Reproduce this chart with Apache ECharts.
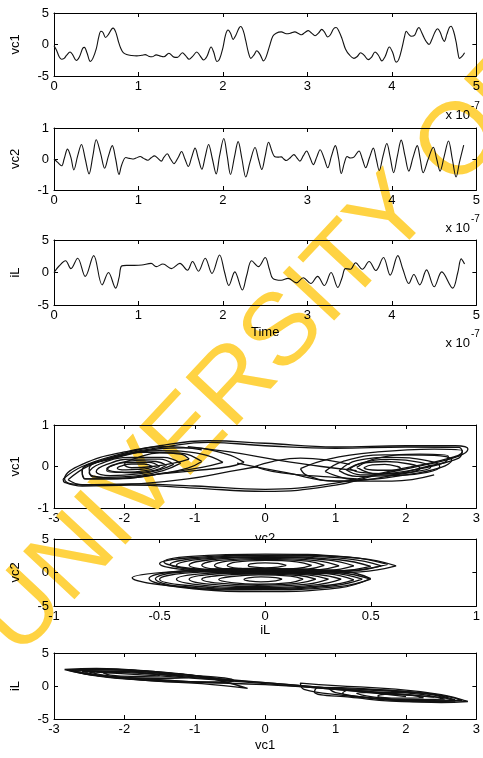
<!DOCTYPE html>
<html>
<head>
<meta charset="utf-8">
<script src="https://cdn.jsdelivr.net/npm/echarts@6/dist/echarts.min.js"></script>
<style>html,body{margin:0;padding:0;background:#fff}#c{width:483px;height:758px}</style>
</head>
<body>
<div id="c"></div>
<script>
// ---------- DATA ----------
// time axis values are in units of 1e-7 s
const timeTicks = [0, 1, 2, 3, 4, 5];
const vc1Time = [[0.00,-0.2],[0.03,-0.9],[0.06,-1.9],[0.09,-2.35],[0.12,-2.2],[0.15,-1.7],[0.19,-1.2],[0.22,-1.6],[0.265,-2.55],[0.30,-2.0],[0.34,-0.6],[0.36,-0.45],[0.39,-1.3],[0.43,-2.7],[0.46,-2.2],[0.50,-0.7],[0.53,1.2],[0.555,2.1],[0.58,1.9],[0.61,1.1],[0.64,1.5],[0.68,2.4],[0.70,2.6],[0.73,2.0],[0.76,0.6],[0.79,-0.6],[0.82,-1.3],[0.86,-1.6],[0.92,-1.75],[0.98,-1.8],[1.04,-1.7],[1.08,-1.6],[1.12,-1.85],[1.16,-1.95],[1.21,-1.65],[1.26,-1.85],[1.30,-1.95],[1.36,-1.4],[1.42,-2.0],[1.46,-2.05],[1.52,-1.3],[1.56,-1.8],[1.60,-2.35],[1.64,-1.9],[1.69,-1.2],[1.73,-1.8],[1.77,-2.45],[1.81,-1.9],[1.86,-0.4],[1.89,-1.2],[1.93,-2.7],[1.96,-2.3],[2.00,-0.5],[2.03,1.5],[2.06,2.3],[2.09,1.8],[2.12,0.8],[2.15,1.4],[2.19,2.6],[2.21,2.85],[2.24,2.2],[2.27,0.6],[2.30,-1.2],[2.33,-2.2],[2.37,-1.6],[2.40,-1.0],[2.44,-1.6],[2.48,-2.6],[2.51,-2.0],[2.55,-0.3],[2.59,1.3],[2.63,1.8],[2.69,2.0],[2.75,1.7],[2.80,1.8],[2.85,2.0],[2.90,1.7],[2.93,1.55],[2.97,1.9],[3.01,2.2],[3.05,1.8],[3.09,1.4],[3.13,1.8],[3.17,2.4],[3.20,2.0],[3.24,1.2],[3.27,1.5],[3.31,2.5],[3.34,2.7],[3.37,2.2],[3.41,0.9],[3.45,-0.7],[3.50,-1.7],[3.55,-2.2],[3.59,-1.9],[3.63,-1.3],[3.67,-1.7],[3.72,-2.4],[3.76,-2.0],[3.80,-1.2],[3.84,-1.7],[3.88,-2.6],[3.92,-1.9],[3.97,-0.4],[4.01,-1.3],[4.05,-2.8],[4.08,-2.4],[4.12,-0.5],[4.15,1.3],[4.17,2.1],[4.20,1.6],[4.23,1.3],[4.27,1.5],[4.30,2.4],[4.32,2.7],[4.35,2.0],[4.38,1.1],[4.41,0.4],[4.44,0.0],[4.47,0.7],[4.51,2.0],[4.54,2.5],[4.57,2.0],[4.60,0.9],[4.62,0.5],[4.65,1.6],[4.68,2.7],[4.70,2.9],[4.73,2.1],[4.76,0.4],[4.78,-1.2],[4.80,-2.2],[4.83,-1.9],[4.86,-1.3]];
const vc2Time = [[0.00,0.0],[0.04,-0.1],[0.09,-0.22],[0.12,0.0],[0.16,0.32],[0.20,0.05],[0.235,-0.35],[0.28,0.1],[0.325,0.47],[0.37,0.0],[0.415,-0.48],[0.46,0.1],[0.50,0.62],[0.55,0.2],[0.60,-0.3],[0.645,0.1],[0.69,0.43],[0.73,0.0],[0.77,-0.5],[0.80,-0.2],[0.85,0.05],[0.89,0.02],[0.93,0.0],[0.97,0.03],[1.02,0.08],[1.06,0.02],[1.11,-0.04],[1.15,0.04],[1.19,0.1],[1.23,0.02],[1.27,-0.07],[1.30,0.05],[1.34,0.17],[1.38,0.0],[1.42,-0.15],[1.47,0.05],[1.51,0.24],[1.55,0.0],[1.59,-0.24],[1.63,0.06],[1.67,0.35],[1.71,0.0],[1.75,-0.33],[1.79,0.08],[1.83,0.47],[1.875,0.0],[1.92,-0.48],[1.96,0.1],[2.01,0.66],[2.05,0.1],[2.09,-0.5],[2.135,0.05],[2.18,0.56],[2.225,0.0],[2.27,-0.58],[2.32,-0.1],[2.38,0.37],[2.42,0.0],[2.46,-0.34],[2.50,0.1],[2.54,0.54],[2.58,0.25],[2.61,0.08],[2.65,0.06],[2.69,0.07],[2.72,0.0],[2.75,-0.05],[2.80,0.05],[2.84,0.14],[2.875,0.04],[2.91,-0.07],[2.95,0.1],[2.99,0.26],[3.03,0.05],[3.07,-0.18],[3.11,0.06],[3.15,0.3],[3.20,0.0],[3.24,-0.28],[3.285,0.1],[3.33,0.43],[3.37,0.0],[3.40,-0.47],[3.44,-0.1],[3.47,0.08],[3.51,0.03],[3.55,0.06],[3.61,0.26],[3.65,0.0],[3.69,-0.28],[3.735,0.05],[3.78,0.35],[3.815,0.0],[3.85,-0.37],[3.895,0.1],[3.94,0.5],[3.98,0.05],[4.02,-0.44],[4.065,0.1],[4.11,0.61],[4.155,0.1],[4.20,-0.39],[4.25,0.05],[4.30,0.43],[4.335,0.0],[4.37,-0.44],[4.43,0.0],[4.49,0.38],[4.53,0.0],[4.57,-0.39],[4.62,0.1],[4.67,0.58],[4.715,0.0],[4.76,-0.58],[4.80,-0.1],[4.85,0.45]];
const iLTime = [[0.00,0.0],[0.06,1.0],[0.137,1.8],[0.20,0.6],[0.28,2.2],[0.37,-0.6],[0.47,2.6],[0.57,-1.9],[0.645,0.0],[0.73,-2.4],[0.77,-0.8],[0.80,1.0],[0.86,1.1],[0.95,1.1],[1.04,1.15],[1.15,1.4],[1.21,0.9],[1.29,1.3],[1.39,0.6],[1.49,1.4],[1.58,0.35],[1.64,1.7],[1.71,0.2],[1.79,2.2],[1.87,-0.15],[1.96,2.7],[2.02,0.0],[2.07,-2.0],[2.14,0.1],[2.23,-2.7],[2.28,-0.5],[2.34,1.8],[2.42,0.9],[2.50,2.3],[2.55,0.5],[2.59,-0.9],[2.69,-1.2],[2.77,-0.9],[2.87,-1.6],[2.95,-0.8],[3.04,-1.7],[3.12,-0.6],[3.20,-2.0],[3.28,0.0],[3.36,-2.3],[3.41,-0.8],[3.45,0.6],[3.51,0.5],[3.57,1.5],[3.65,0.5],[3.73,1.7],[3.81,0.3],[3.90,2.3],[3.98,-0.4],[4.07,2.6],[4.13,0.5],[4.20,-1.7],[4.26,-0.3],[4.33,-1.9],[4.41,0.4],[4.50,-2.2],[4.59,0.1],[4.72,-2.4],[4.78,0.0],[4.82,2.1],[4.86,1.3]];

// phase portrait: x = vc2 (-3..3), y = vc1 (-1..1)
const phaseVc2Vc1 = [
  [[-1.60,0.00],[-1.72,0.06],[-1.90,0.06],[-2.05,0.01],[-2.10,-0.04],[-1.98,-0.08],[-1.80,-0.07],[-1.65,-0.04],[-1.60,0.00]],
  [[-1.40,0.03],[-1.55,0.12],[-1.85,0.14],[-2.12,0.06],[-2.25,-0.05],[-2.12,-0.13],[-1.85,-0.15],[-1.55,-0.08],[-1.40,0.03]],
  [[-1.5,0.0],[-1.65,0.1],[-1.95,0.1],[-2.2,0.0],[-2.25,-0.1],[-2.0,-0.14],[-1.7,-0.1],[-1.5,0.0]],
  [[-1.3,0.05],[-1.5,0.18],[-1.9,0.18],[-2.25,0.05],[-2.4,-0.12],[-2.2,-0.22],[-1.8,-0.18],[-1.5,-0.08],[-1.3,0.05]],
  [[-1.2,0.08],[-1.45,0.22],[-1.9,0.22],[-2.35,0.06],[-2.5,-0.15],[-2.3,-0.26],[-1.8,-0.22],[-1.45,-0.1],[-1.2,0.08]],
  [[-1.08,0.18],[-1.2,0.30],[-1.5,0.33],[-1.8,0.22],[-2.0,0.05],[-1.9,-0.03],[-1.6,0.0],[-1.3,0.08],[-1.08,0.18]],
  [[-0.6,0.1],[-0.9,0.3],[-1.5,0.38],[-2.1,0.22],[-2.5,-0.05],[-2.45,-0.25],[-2.0,-0.28],[-1.4,-0.15],[-0.9,-0.02],[-0.6,0.1]],
  [[-0.9,0.12],[-1.2,0.32],[-1.7,0.34],[-2.2,0.18],[-2.6,-0.1],[-2.55,-0.3],[-2.1,-0.3],[-1.5,-0.18],[-1.1,-0.04],[-0.9,0.12]],
  [[-0.30,0.10],[-0.55,0.30],[-1.1,0.45],[-1.7,0.38],[-2.3,0.15],[-2.6,-0.1],[-2.55,-0.3],[-2.2,-0.3],[-1.6,-0.2],[-1.0,-0.1],[-0.5,0.0],[-0.30,0.10]],
  [[-0.1,0.0],[-0.5,-0.12],[-1.1,-0.3],[-1.8,-0.42],[-2.4,-0.45],[-2.75,-0.42],[-2.85,-0.3],[-2.6,0.05],[-2.0,0.35],[-1.4,0.48],[-0.9,0.4]],
  [[1.40,-0.03],[1.52,0.04],[1.70,0.05],[1.88,0.0],[1.92,-0.05],[1.80,-0.09],[1.60,-0.09],[1.45,-0.07],[1.40,-0.03]],
  [[1.20,-0.06],[1.38,0.08],[1.72,0.12],[2.05,0.06],[2.2,-0.04],[2.05,-0.14],[1.70,-0.17],[1.35,-0.14],[1.20,-0.06]],
  [[1.3,-0.02],[1.6,0.2],[2.2,0.3],[2.6,0.25],[2.55,0.1],[2.1,-0.08],[1.6,-0.18],[1.3,-0.02]],
  [[1.05,-0.1],[1.3,0.14],[1.8,0.22],[2.3,0.14],[2.48,0.0],[2.3,-0.14],[1.8,-0.22],[1.3,-0.24],[1.05,-0.1]],
  [[1.15,-0.08],[1.4,0.1],[1.8,0.17],[2.2,0.1],[2.35,-0.02],[2.15,-0.12],[1.75,-0.2],[1.35,-0.2],[1.15,-0.08]],
  [[0.85,-0.12],[1.1,0.12],[1.7,0.28],[2.4,0.27],[2.65,0.15],[2.5,-0.02],[2.0,-0.2],[1.3,-0.32],[0.85,-0.12]],
  [[0.5,-0.05],[0.9,0.18],[1.6,0.35],[2.4,0.42],[2.8,0.38],[2.75,0.2],[2.3,0.0],[1.6,-0.28],[1.0,-0.35],[0.6,-0.22],[0.5,-0.05]],
  [[-0.15,0.0],[0.1,0.12],[0.5,0.2],[0.9,0.15],[1.2,0.05]],
  [[-0.15,0.0],[0.1,-0.12],[0.5,-0.2],[0.9,-0.25],[1.3,-0.3]],
  [[-1.1,0.48],[-0.5,0.35],[0.2,0.15],[0.8,0.0],[1.3,-0.1]],
  [[-0.4,0.08],[0.3,-0.15],[1.0,-0.35],[1.8,-0.35],[2.4,-0.2]],
  [[-2.87,-0.3],[-2.6,0.0],[-2.1,0.28],[-1.5,0.5],[-0.8,0.62],[0.0,0.56],[1.0,0.47],[2.0,0.5],[2.7,0.5],[2.88,0.42],[2.75,0.25],[2.3,0.05],[1.6,-0.2],[1.0,-0.45],[0.0,-0.6],[-1.0,-0.52],[-1.9,-0.45],[-2.6,-0.47],[-2.85,-0.38],[-2.87,-0.3]],
  [[-2.8,-0.32],[-2.5,0.02],[-2.0,0.3],[-1.4,0.48],[-0.8,0.58],[0.0,0.5],[1.0,0.44],[2.0,0.47],[2.75,0.46],[2.8,0.36],[2.5,0.15],[1.8,-0.1],[1.0,-0.4],[0.0,-0.55],[-1.0,-0.47],[-1.9,-0.42],[-2.6,-0.44],[-2.8,-0.32]]
];
// phase portrait: x = iL (-1..1), y = vc2 (-5..5)
const phaseIlVc2 = [
  [[0.62,1.0],[0.45,2.1],[0.05,2.6],[-0.35,2.2],[-0.5,1.3],[-0.35,0.3],[0.05,-0.2],[0.45,0.1],[0.62,1.0]],
  [[0.58,1.2],[0.4,2.3],[0.0,2.75],[-0.35,2.4],[-0.48,1.6],[-0.35,0.6],[0.0,0.1],[0.4,0.3],[0.58,1.2]],
  [[0.55,1.0],[0.4,2.0],[0.02,2.5],[-0.32,2.1],[-0.45,1.2],[-0.32,0.4],[0.02,-0.1],[0.4,0.2],[0.55,1.0]],
  [[0.5,0.9],[0.35,1.9],[0.0,2.35],[-0.3,2.0],[-0.42,1.1],[-0.3,0.3],[0.0,-0.05],[0.35,0.2],[0.5,0.9]],
  [[0.42,1.0],[0.3,1.85],[0.0,2.25],[-0.26,1.9],[-0.36,1.1],[-0.26,0.4],[0.0,0.05],[0.3,0.3],[0.42,1.0]],
  [[0.35,1.0],[0.25,1.75],[0.0,2.1],[-0.22,1.8],[-0.3,1.1],[-0.22,0.45],[0.0,0.15],[0.25,0.4],[0.35,1.0]],
  [[0.28,1.05],[0.2,1.7],[0.0,1.95],[-0.18,1.7],[-0.24,1.05],[-0.18,0.5],[0.0,0.3],[0.2,0.5],[0.28,1.05]],
  [[0.22,1.05],[0.15,1.6],[0.0,1.8],[-0.14,1.55],[-0.18,1.05],[-0.12,0.6],[0.0,0.4],[0.15,0.6],[0.22,1.05]],
  [[0.1,1.05],[0.06,1.35],[0.0,1.45],[-0.07,1.3],[-0.08,1.0],[-0.05,0.8],[0.0,0.7],[0.06,0.8],[0.1,1.05]],
  [[0.5,-1.0],[0.35,0.0],[-0.05,0.5],[-0.45,0.1],[-0.63,-0.8],[-0.45,-2.0],[-0.05,-2.6],[0.35,-2.1],[0.5,-1.0]],
  [[0.5,-0.9],[0.35,0.3],[-0.05,0.6],[-0.4,0.2],[-0.55,-0.9],[-0.4,-2.2],[0.0,-2.85],[0.35,-2.3],[0.5,-0.9]],
  [[0.46,-1.0],[0.32,-0.1],[-0.05,0.35],[-0.42,0.0],[-0.52,-0.95],[-0.42,-2.0],[-0.05,-2.5],[0.32,-2.0],[0.46,-1.0]],
  [[0.42,-1.1],[0.3,-0.2],[-0.05,0.25],[-0.38,-0.1],[-0.5,-1.0],[-0.38,-1.9],[-0.05,-2.4],[0.3,-1.9],[0.42,-1.1]],
  [[0.36,-1.0],[0.25,-0.3],[-0.05,0.1],[-0.32,-0.25],[-0.42,-1.0],[-0.32,-1.8],[-0.05,-2.25],[0.25,-1.8],[0.36,-1.0]],
  [[0.3,-1.0],[0.2,-0.35],[-0.05,0.0],[-0.28,-0.35],[-0.36,-1.0],[-0.28,-1.7],[-0.05,-2.1],[0.2,-1.75],[0.3,-1.0]],
  [[0.24,-1.0],[0.16,-0.45],[-0.04,-0.2],[-0.22,-0.45],[-0.3,-1.0],[-0.22,-1.6],[-0.04,-1.9],[0.16,-1.6],[0.24,-1.0]],
  [[0.18,-1.0],[0.12,-0.55],[-0.03,-0.35],[-0.16,-0.6],[-0.22,-1.05],[-0.16,-1.5],[-0.03,-1.75],[0.12,-1.5],[0.18,-1.0]],
  [[0.08,-1.0],[0.05,-0.75],[-0.02,-0.65],[-0.08,-0.8],[-0.1,-1.05],[-0.07,-1.3],[-0.02,-1.4],[0.05,-1.25],[0.08,-1.0]]
];
// phase portrait: x = vc1 (-3..3), y = iL (-5..5)
const phaseVc1Il = [
  [[-2.85,2.5],[-2.4,2.65],[-1.6,2.2],[-0.9,1.4],[-0.25,-0.35],[-0.9,0.35],[-1.7,0.85],[-2.4,1.6],[-2.85,2.5]],
  [[-2.8,2.4],[-2.2,2.5],[-1.4,1.95],[-0.7,1.15],[-0.6,0.6],[-1.3,0.75],[-2.0,1.15],[-2.55,1.8],[-2.8,2.4]],
  [[-2.75,2.45],[-2.3,2.55],[-1.5,2.05],[-0.8,1.3],[-0.45,0.7],[-1.1,0.6],[-1.9,1.0],[-2.5,1.7],[-2.75,2.45]],
  [[-2.6,2.2],[-2.0,2.3],[-1.4,1.85],[-1.05,1.35],[-1.5,1.15],[-2.1,1.35],[-2.45,1.8],[-2.6,2.2]],
  [[-2.5,2.1],[-1.9,2.2],[-1.3,1.7],[-1.2,1.3],[-1.7,1.2],[-2.2,1.5],[-2.5,2.1]],
  [[-2.3,2.0],[-1.9,2.1],[-1.55,1.8],[-1.5,1.5],[-1.9,1.45],[-2.2,1.65],[-2.3,2.0]],
  [[-2.7,2.3],[-2.1,2.45],[-1.1,1.7],[-0.45,0.85],[-0.65,0.5],[-1.5,0.95],[-2.3,1.5],[-2.7,2.3]],
  [[2.88,-2.35],[2.5,-2.5],[1.8,-2.15],[1.1,-1.4],[0.55,-0.5],[0.5,0.45],[1.0,0.05],[1.8,-0.45],[2.5,-1.3],[2.88,-2.35]],
  [[2.8,-2.2],[2.2,-2.3],[1.5,-1.8],[1.0,-1.0],[0.9,-0.35],[1.5,-0.55],[2.2,-1.0],[2.6,-1.6],[2.8,-2.2]],
  [[2.7,-2.1],[2.1,-2.2],[1.4,-1.7],[1.1,-1.1],[1.2,-0.6],[1.8,-0.8],[2.4,-1.3],[2.7,-2.1]],
  [[2.55,-2.0],[2.0,-2.05],[1.5,-1.6],[1.3,-1.1],[1.75,-0.95],[2.25,-1.3],[2.55,-2.0]],
  [[2.25,-1.8],[1.9,-1.85],[1.6,-1.5],[1.7,-1.25],[2.05,-1.35],[2.25,-1.8]],
  [[2.7,-2.3],[2.1,-2.4],[1.2,-1.7],[0.7,-0.9],[0.75,-0.2],[1.4,-0.4],[2.3,-1.2],[2.7,-2.3]],
  [[-2.6,2.3],[-1.5,1.75],[-0.5,0.95],[0.5,0.05],[1.5,-0.85],[2.6,-1.85]],
  [[-2.2,1.3],[-1.0,0.6],[0.0,0.2],[1.0,-0.5],[2.0,-1.6]],
  [[-1.8,2.0],[-0.8,1.1],[0.0,0.5],[0.8,-0.2],[1.8,-1.2]],
  [[-2.4,2.1],[-1.2,1.3],[0.0,0.35],[1.2,-0.7],[2.4,-1.7]]
];

// ---------- CHART ----------
const FF = '"Liberation Sans", Arial, sans-serif';
const chart = echarts.init(document.getElementById('c'), null, {renderer: 'canvas'});

const gridBoxes = [
  {top: 13, height: 63},
  {top: 128, height: 62},
  {top: 240, height: 65},
  {top: 425, height: 83},
  {top: 539, height: 67},
  {top: 653, height: 66}
];
const axisDefs = [
  {x: [0, 5, 1], y: [-5, 5, 5], yName: 'vc1', xName: '', gap: 20},
  {x: [0, 5, 1], y: [-1, 1, 1], yName: 'vc2', xName: '', gap: 20},
  {x: [0, 5, 1], y: [-5, 5, 5], yName: 'iL', xName: 'Time', gap: 21},
  {x: [-3, 3, 1], y: [-1, 1, 1], yName: 'vc1', xName: 'vc2', gap: 24},
  {x: [-1, 1, 0.5], y: [-5, 5, 5], yName: 'vc2', xName: 'iL', gap: 18},
  {x: [-3, 3, 1], y: [-5, 5, 5], yName: 'iL', xName: 'vc1', gap: 20}
];

const grid = gridBoxes.map(g => ({left: 54, width: 426, top: g.top, height: g.height, show: false, containLabel: false}));
const xAxis = [], yAxis = [];
const tick = {show: true, inside: true, length: 4, lineStyle: {color: '#000', width: 1}};
const line = {show: true, onZero: false, lineStyle: {color: '#000', width: 1}};
axisDefs.forEach((d, i) => {
  xAxis.push({
    type: 'value', gridIndex: i, position: 'bottom', min: d.x[0], max: d.x[1], interval: d.x[2],
    axisLine: line, axisTick: tick, splitLine: {show: false},
    axisLabel: {color: '#000', fontSize: 13, fontFamily: FF, margin: 4},
    name: d.xName, nameLocation: 'middle', nameGap: d.gap,
    nameTextStyle: {color: '#000', fontSize: 13, fontFamily: FF},
    z: i === 3 ? -300 : 0
  });
  xAxis.push({
    type: 'value', gridIndex: i, position: 'top', min: d.x[0], max: d.x[1], interval: d.x[2],
    axisLine: line, axisTick: tick, splitLine: {show: false}, axisLabel: {show: false}
  });
  yAxis.push({
    type: 'value', gridIndex: i, position: 'left', min: d.y[0], max: d.y[1], interval: d.y[2],
    axisLine: line, axisTick: tick, splitLine: {show: false},
    axisLabel: {color: '#000', fontSize: 13, fontFamily: FF, margin: 5},
    name: d.yName, nameLocation: 'middle', nameGap: 32, nameRotate: 90,
    nameTextStyle: {color: '#000', fontSize: 13, fontFamily: FF}
  });
  yAxis.push({
    type: 'value', gridIndex: i, position: 'right', min: d.y[0], max: d.y[1], interval: d.y[2],
    axisLine: line, axisTick: tick, splitLine: {show: false}, axisLabel: {show: false}
  });
});

const series = [];
function addLine(data, gi, smooth, width, color) {
  series.push({
    type: 'line', xAxisIndex: gi * 2, yAxisIndex: gi * 2, data: data,
    showSymbol: false, symbol: 'none', smooth: smooth, animation: false,
    lineStyle: {color: color, width: width}, silent: true, clip: true
  });
}
addLine(vc1Time, 0, 0.35, 1.1, '#111');
addLine(vc2Time, 1, 0.35, 1.1, '#111');
addLine(iLTime, 2, 0.35, 1.1, '#111');
phaseVc2Vc1.forEach(l => addLine(l, 3, 0.45, 1.3, '#111'));
phaseIlVc2.forEach(l => addLine(l, 4, 0.45, 1.3, '#111'));
phaseVc1Il.forEach(l => addLine(l, 5, 0.45, 1.3, '#111'));

const sci = [115, 228, 343];
const graphics = [];
sci.forEach(y => {
  graphics.push({type: 'text', x: 470, y: y, z: 10, style: {text: 'x 10', fill: '#000', fontSize: 13, fontFamily: FF, align: 'right', verticalAlign: 'middle'}});
  graphics.push({type: 'text', x: 471, y: y - 9, z: 10, style: {text: '-7', fill: '#000', fontSize: 10, fontFamily: FF, align: 'left', verticalAlign: 'middle'}});
});
// white cover for axes box of the 5th panel (hides the overlapped xlabel)
graphics.push({type: 'rect', z: -200, shape: {x: 54, y: 539, width: 426, height: 67}, style: {fill: '#fff'}});
// watermark
graphics.push({type: 'text', x: -2, y: 640, rotation: 47 * Math.PI / 180, z: -100,
  style: {text: 'UNIVERSITY OF', fill: '#FFD343', fontSize: 102, fontFamily: FF, align: 'left', verticalAlign: 'middle'}});

chart.setOption({
  backgroundColor: '#fff',
  animation: false,
  grid: grid,
  xAxis: xAxis,
  yAxis: yAxis,
  series: series,
  graphic: {elements: graphics}
});
</script>
</body>
</html>
